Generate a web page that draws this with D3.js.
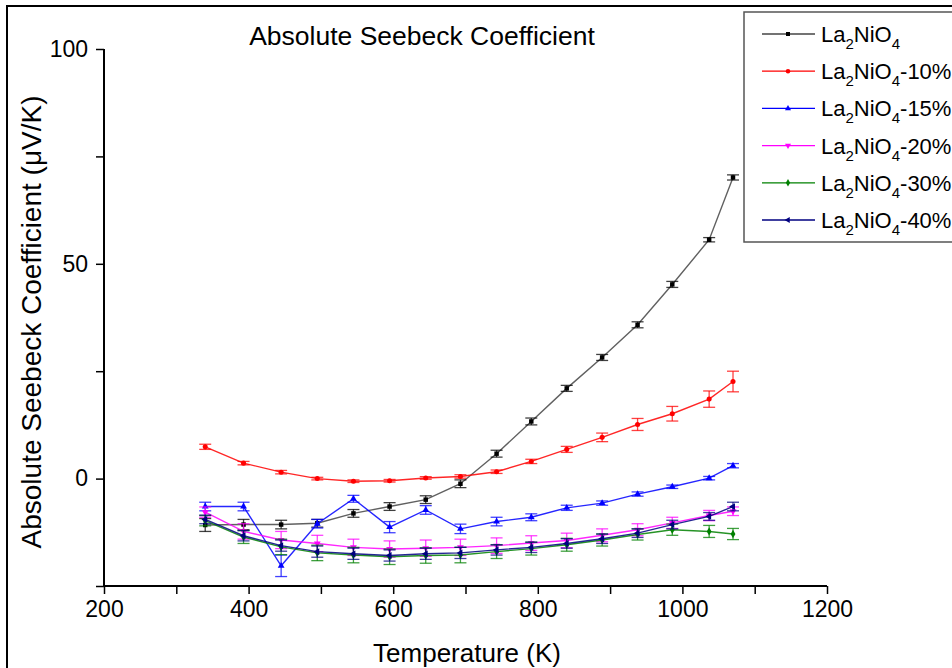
<!DOCTYPE html>
<html>
<head>
<meta charset="utf-8">
<script src="https://cdn.jsdelivr.net/npm/d3@7"></script>
<style>
  body { margin: 0; background: #fff; }
  text { font-family: "Liberation Sans", Arial, sans-serif; fill: #000; }
</style>
</head>
<body>
<div class="container"></div>
<script>
// temperatures (K)
var temps = [340, 393, 445, 495, 545, 595, 645, 693, 743, 791, 840, 889, 938, 986, 1037, 1070];

var la2nio4    = [-10.8, -10.7, -10.7, -10.4, -8.1, -6.5, -4.9, -1.2, 5.8, 13.3, 21.0, 28.2, 35.8, 45.2, 55.6, 70.1];
var la2nio4_10 = [7.4, 3.6, 1.5, 0.0, -0.6, -0.5, 0.15, 0.5, 1.6, 4.0, 6.8, 9.6, 12.6, 15.1, 18.5, 22.6];
var la2nio4_15 = [-6.5, -6.5, -20.3, -10.5, -4.7, -11.3, -7.3, -11.7, -10.0, -9.0, -6.8, -5.7, -3.6, -1.9, 0.1, 3.0];
var la2nio4_20 = [-7.8, -12.3, -14.3, -15.1, -16.0, -16.4, -16.2, -16.0, -15.6, -15.0, -14.4, -13.2, -11.9, -10.3, -8.6, -7.6];
var la2nio4_30 = [-9.8, -13.6, -15.9, -17.3, -17.8, -18.2, -17.9, -17.8, -17.0, -16.3, -15.4, -14.3, -13.0, -11.9, -12.3, -12.9];
var la2nio4_40 = [-9.5, -13.3, -15.6, -17.0, -17.5, -17.9, -17.5, -17.3, -16.6, -16.0, -15.1, -14.0, -12.7, -10.7, -8.8, -6.5];

var err0  = [1.5, 1.2, 1.0, 0.9, 0.9, 0.9, 0.9, 0.9, 0.8, 0.8, 0.7, 0.7, 0.7, 0.7, 0.5, 0.6];
var err10 = [0.6, 0.4, 0.4, 0.3, 0.3, 0.3, 0.3, 0.4, 0.4, 0.5, 0.7, 1.0, 1.4, 1.7, 1.9, 2.4];
var err15 = [1.0, 1.0, 2.5, 1.0, 0.8, 1.3, 1.0, 1.1, 1.0, 0.8, 0.6, 0.5, 0.5, 0.4, 0.4, 0.5];
var err20 = [1.2, 1.8, 2.0, 1.9, 1.9, 1.9, 1.9, 1.9, 1.8, 1.7, 1.7, 1.5, 1.4, 1.3, 1.2, 1.0];
var err30 = [1.2, 1.5, 1.8, 1.8, 1.8, 1.8, 1.8, 1.8, 1.6, 1.5, 1.5, 1.4, 1.3, 1.3, 1.4, 1.3];
var err40 = [1.0, 1.2, 1.3, 1.3, 1.3, 1.3, 1.3, 1.3, 1.2, 1.2, 1.1, 1.1, 1.0, 1.0, 0.9, 1.0];

var seriesNames = ["", "-10%", "-15%", "-20%", "-30%", "-40%"];
var xTicks = [200, 400, 600, 800, 1000, 1200];
var yTicks = [0, 50, 100];

const WIDTH = 952;
const HEIGHT = 668;

var series = [
  {name: seriesNames[0], values: la2nio4,    err: err0,  color: "#000000", line: "#444", symbol: d3.symbolSquare},
  {name: seriesNames[1], values: la2nio4_10, err: err10, color: "#ff0000", symbol: d3.symbolCircle},
  {name: seriesNames[2], values: la2nio4_15, err: err15, color: "#0000ff", symbol: d3.symbolTriangle},
  {name: seriesNames[3], values: la2nio4_20, err: err20, color: "#ff00ff", symbol: d3.symbolTriangle, rot: 180},
  {name: seriesNames[4], values: la2nio4_30, err: err30, color: "#008000", symbol: d3.symbolDiamond},
  {name: seriesNames[5], values: la2nio4_40, err: err40, color: "#000080", symbol: d3.symbolTriangle, rot: -90}
];

var translate = function(x, y){
  return "translate(" + x + "," + y + ")";
};

var _xScale = d3.scaleLinear().domain([200, 1200]).range([104, 827]);
var _yScale = d3.scaleLinear().domain([-25, 100]).range([586, 49]);

var svg = d3.select(".container").append("svg")
  .attr("width", WIDTH)
  .attr("height", HEIGHT);

// outer frame
svg.append("rect")
  .attr("x", 7).attr("y", 6)
  .attr("width", WIDTH + 10).attr("height", HEIGHT + 10)
  .attr("fill", "none").attr("stroke", "#000").attr("stroke-width", 2);

// x axis
var xAxis = d3.axisBottom(_xScale).tickValues(d3.range(200, 1201, 100)).tickSize(8)
  .tickFormat(function(d){ return xTicks.indexOf(d) >= 0 ? d : ""; });
var gx = svg.append("g").attr("transform", translate(0, 586)).call(xAxis);
gx.select(".domain").attr("stroke-width", 2).attr("d", "M104,0H827");
gx.selectAll(".tick line").attr("stroke-width", 1.5);
gx.selectAll(".tick text").attr("font-size", 23).attr("y", 31).attr("dy", 0);

// y axis
var yAxis = d3.axisLeft(_yScale).tickValues(d3.range(-25, 101, 25)).tickSize(8)
  .tickFormat(function(d){ return yTicks.indexOf(d) >= 0 ? d : ""; });
var gy = svg.append("g").attr("transform", translate(104, 0)).call(yAxis);
gy.select(".domain").attr("stroke-width", 2).attr("d", "M0,49V586");
gy.selectAll(".tick line").attr("stroke-width", 1.5);
gy.selectAll(".tick text").attr("font-size", 23).attr("x", -16);

// titles
svg.append("text").attr("x", 422).attr("y", 45).attr("text-anchor", "middle")
  .attr("font-size", 26.5).text("Absolute Seebeck Coefficient");
svg.append("text").attr("x", 467).attr("y", 662).attr("text-anchor", "middle")
  .attr("font-size", 26).text("Temperature (K)");
svg.append("text").attr("transform", translate(41, 322) + " rotate(-90)")
  .attr("text-anchor", "middle").attr("font-size", 28)
  .text("Absolute Seebeck Coefficient (\u03bcV/K)");

var line = d3.line()
  .x(function(d, i){ return _xScale(temps[i]); })
  .y(function(d){ return _yScale(d); });

series.forEach(function(s){
  var g = svg.append("g");
  g.append("path").datum(s.values)
    .attr("d", line).attr("fill", "none")
    .attr("stroke", s.line || s.color).attr("stroke-width", 1.4).attr("stroke-opacity", 0.85);

  var bars = g.selectAll(".err").data(s.values).enter().append("g")
    .attr("stroke", s.color).attr("stroke-width", 1.3).attr("stroke-opacity", 0.75);
  bars.append("line")
    .attr("x1", function(d, i){ return _xScale(temps[i]); })
    .attr("x2", function(d, i){ return _xScale(temps[i]); })
    .attr("y1", function(d, i){ return _yScale(d + s.err[i]); })
    .attr("y2", function(d, i){ return _yScale(d - s.err[i]); });
  [1, -1].forEach(function(sign){
    bars.append("line")
      .attr("x1", function(d, i){ return _xScale(temps[i]) - 6; })
      .attr("x2", function(d, i){ return _xScale(temps[i]) + 6; })
      .attr("y1", function(d, i){ return _yScale(d + sign * s.err[i]); })
      .attr("y2", function(d, i){ return _yScale(d + sign * s.err[i]); });
  });

  g.selectAll(".pt").data(s.values).enter().append("path")
    .attr("d", d3.symbol().type(s.symbol).size(20))
    .attr("fill", s.color)
    .attr("transform", function(d, i){
      return translate(_xScale(temps[i]), _yScale(d)) + " rotate(" + (s.rot || 0) + ")";
    });
});

// legend
var legend = svg.append("g");
legend.append("rect").attr("x", 744).attr("y", 12).attr("width", 230).attr("height", 230)
  .attr("fill", "#fff").attr("stroke", "#555").attr("stroke-width", 1.5);

series.forEach(function(s, i){
  var y = 34 + i * 37.2;
  legend.append("line").attr("x1", 762).attr("x2", 815).attr("y1", y).attr("y2", y)
    .attr("stroke", s.line || s.color).attr("stroke-width", 1.3);
  legend.append("path").attr("d", d3.symbol().type(s.symbol).size(16))
    .attr("fill", s.color)
    .attr("transform", translate(788, y) + " rotate(" + (s.rot || 0) + ")");
  var t = legend.append("text").attr("x", 821).attr("y", y + 8).attr("font-size", 22);
  t.append("tspan").text("La");
  t.append("tspan").attr("font-size", 15).attr("dy", 7).text("2");
  t.append("tspan").attr("dy", -7).text("NiO");
  t.append("tspan").attr("font-size", 15).attr("dy", 7).text("4");
  t.append("tspan").attr("dy", -7).text(s.name);
});
</script>
</body>
</html>
